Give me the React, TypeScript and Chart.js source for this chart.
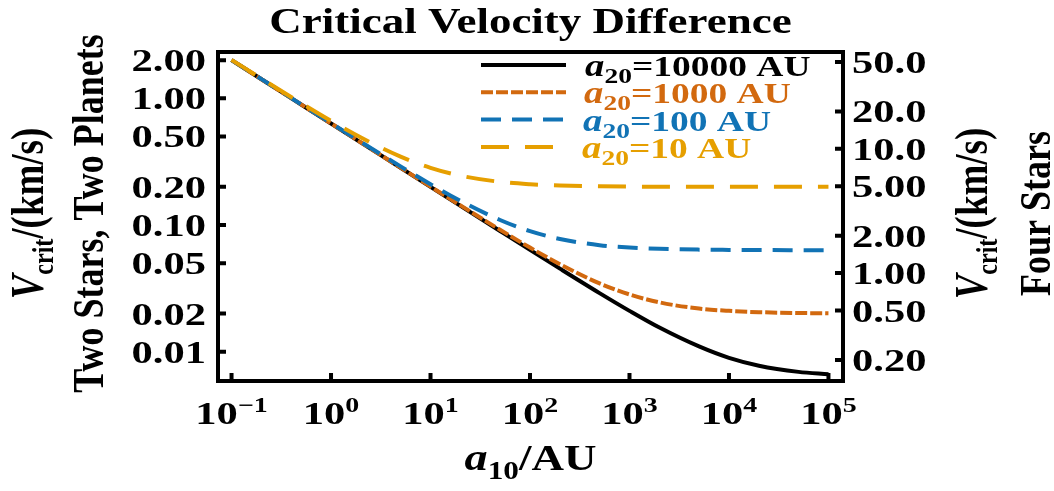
import React, { useEffect, useRef } from "react";
import { Chart, registerables } from "chart.js";

Chart.register(...registerables);

// ---- data ----
const xValues = [0.1, 0.2, 0.5, 1, 2, 5, 10, 20, 50, 100, 200, 500, 1000, 2000, 5000, 10000, 20000, 50000, 100000];
const v10000 = [2.0, 1.414, 0.894, 0.632, 0.447, 0.283, 0.2, 0.1415, 0.0897, 0.0636, 0.0452, 0.029, 0.021, 0.0155, 0.011, 0.00894, 0.00775, 0.00693, 0.00663];
const v1000 = [2.0, 1.414, 0.895, 0.633, 0.448, 0.2835, 0.201, 0.1428, 0.0917, 0.0663, 0.049, 0.0346, 0.0283, 0.0245, 0.0219, 0.021, 0.0205, 0.0202, 0.0201];
const v100 = [2.001, 1.416, 0.897, 0.636, 0.452, 0.29, 0.21, 0.155, 0.1095, 0.0894, 0.0775, 0.0693, 0.0663, 0.0648, 0.0639, 0.0636, 0.0634, 0.0633, 0.0633];
const v10 = [2.01, 1.428, 0.9165, 0.663, 0.49, 0.3464, 0.2828, 0.245, 0.219, 0.2098, 0.205, 0.202, 0.201, 0.2005, 0.2002, 0.2001, 0.2, 0.2, 0.2];

const seriesNames = ["10000", "1000", "100", "10"];
const seriesColors = ["#000000", "#D2690F", "#1173B5", "#E69F00"];
const seriesDashes: number[][] = [[], [12, 3], [20, 11], [28, 16]];

const leftTicks = [2, 1, 0.5, 0.2, 0.1, 0.05, 0.02, 0.01];
const leftTickLabels = ["2.00", "1.00", "0.50", "0.20", "0.10", "0.05", "0.02", "0.01"];
const rightTicks = [50, 20, 10, 5, 2, 1, 0.5, 0.2];
const rightTickLabels = ["50.0", "20.0", "10.0", "5.00", "2.00", "1.00", "0.50", "0.20"];
const xTicks = [0.1, 1, 10, 100, 1000, 10000, 100000];
const xTickExponents = ["\u22121", "0", "1", "2", "3", "4", "5"];

const titleText = "Critical Velocity Difference";
const FONT = "'Liberation Serif', 'Times New Roman', serif";

type Run = { t: string; font: string; dy?: number };

function drawRuns(
  ctx: CanvasRenderingContext2D,
  runs: Run[],
  x: number,
  y: number,
  align: "left" | "center" | "right",
  sx: number,
  sy: number,
  rot: number,
  color: string
) {
  ctx.save();
  ctx.translate(x, y);
  if (rot) ctx.rotate(rot);
  ctx.scale(sx, sy);
  ctx.fillStyle = color;
  ctx.textAlign = "left";
  ctx.textBaseline = "alphabetic";
  let w = 0;
  for (const r of runs) {
    ctx.font = r.font;
    w += ctx.measureText(r.t).width;
  }
  let cx = align === "left" ? 0 : align === "center" ? -w / 2 : -w;
  for (const r of runs) {
    ctx.font = r.font;
    ctx.fillText(r.t, cx, r.dy || 0);
    cx += ctx.measureText(r.t).width;
  }
  ctx.restore();
}

function labelFor(values: number[], labels: string[], v: number) {
  let best = 0;
  for (let i = 1; i < values.length; i++) {
    if (Math.abs(Math.log(values[i] / v)) < Math.abs(Math.log(values[best] / v))) best = i;
  }
  return labels[best];
}

const decorPlugin = {
  id: "decor",
  afterDatasetsDraw(chart: any) {
    const ctx: CanvasRenderingContext2D = chart.ctx;
    const { left, right, top, bottom } = chart.chartArea;
    const xs = chart.scales.x;
    const ys = chart.scales.y;
    const y2 = chart.scales.y2;
    ctx.save();
    ctx.strokeStyle = "#000";
    ctx.lineWidth = 4;
    ctx.setLineDash([]);
    ctx.strokeRect(left, top, right - left, bottom - top);
    const tl = 8;
    ctx.beginPath();
    for (const t of xs.ticks) {
      const px = xs.getPixelForValue(t.value);
      ctx.moveTo(px, bottom);
      ctx.lineTo(px, bottom - tl);
    }
    for (const t of ys.ticks) {
      const py = ys.getPixelForValue(t.value);
      ctx.moveTo(left, py);
      ctx.lineTo(left + tl, py);
    }
    for (const t of y2.ticks) {
      const py = y2.getPixelForValue(t.value);
      ctx.moveTo(right, py);
      ctx.lineTo(right - tl, py);
    }
    ctx.stroke();
    ctx.restore();
  },
  afterDraw(chart: any) {
    const ctx: CanvasRenderingContext2D = chart.ctx;
    const { left, right, top, bottom } = chart.chartArea;
    const xs = chart.scales.x;
    const ys = chart.scales.y;
    const y2 = chart.scales.y2;
    const tickFont = `bold 32px ${FONT}`;
    const tsx = 1.33;

    // title
    drawRuns(ctx, [{ t: titleText, font: `bold 36px ${FONT}` }], (left + right) / 2, 33, "center", 1.25, 1, 0, "#000");

    // left tick labels
    ys.ticks.forEach((t: any) => {
      const py = ys.getPixelForValue(t.value);
      const lab = labelFor(leftTicks, leftTickLabels, t.value);
      drawRuns(ctx, [{ t: lab, font: tickFont }], left - 12, py + 11, "right", tsx, 1, 0, "#000");
    });
    // right tick labels
    y2.ticks.forEach((t: any) => {
      const py = y2.getPixelForValue(t.value);
      const lab = labelFor(rightTicks, rightTickLabels, t.value);
      drawRuns(ctx, [{ t: lab, font: tickFont }], right + 9, py + 11, "left", tsx, 1, 0, "#000");
    });
    // x tick labels
    xs.ticks.forEach((t: any) => {
      const px = xs.getPixelForValue(t.value);
      const ex = labelFor(xTicks, xTickExponents, t.value);
      drawRuns(
        ctx,
        [
          { t: "10", font: tickFont },
          { t: ex, font: `bold 21px ${FONT}`, dy: -12 },
        ],
        px,
        bottom + 43,
        "center",
        tsx,
        1,
        0,
        "#000"
      );
    });

    // x axis title
    drawRuns(
      ctx,
      [
        { t: "a", font: `italic bold 37px ${FONT}` },
        { t: "10", font: `bold 25px ${FONT}`, dy: 9 },
        { t: "/AU", font: `bold 36px ${FONT}` },
      ],
      (left + right) / 2,
      bottom + 89,
      "center",
      1.25,
      1,
      0,
      "#000"
    );

    // left axis title (two rotated lines)
    const cy = (top + bottom) / 2 - 3;
    const vRuns: Run[] = [
      { t: "V", font: `italic bold 37px ${FONT}` },
      { t: "crit", font: `bold 24px ${FONT}`, dy: 8 },
      { t: "/(km/s)", font: `bold 37px ${FONT}` },
    ];
    drawRuns(ctx, vRuns, 43, cy, "center", 1, 1.25, -Math.PI / 2, "#000");
    drawRuns(ctx, [{ t: "Two Stars, Two Planets", font: `bold 36px ${FONT}` }], 103, cy, "center", 1, 1.25, -Math.PI / 2, "#000");
    // right axis title
    drawRuns(ctx, vRuns, 987, cy, "center", 1, 1.25, -Math.PI / 2, "#000");
    drawRuns(ctx, [{ t: "Four Stars", font: `bold 36px ${FONT}` }], 1050, cy, "center", 1, 1.25, -Math.PI / 2, "#000");

    // legend
    seriesNames.forEach((name, i) => {
      const ly = 65 + i * 27.3;
      ctx.save();
      ctx.strokeStyle = seriesColors[i];
      ctx.lineWidth = 4;
      ctx.lineCap = "butt";
      ctx.setLineDash(seriesDashes[i]);
      ctx.beginPath();
      ctx.moveTo(481, ly);
      ctx.lineTo(566, ly);
      ctx.stroke();
      ctx.restore();
      drawRuns(
        ctx,
        [
          { t: "a", font: `italic bold 31px ${FONT}` },
          { t: "20", font: `bold 22px ${FONT}`, dy: 7 },
          { t: `=${name} AU`, font: `bold 30px ${FONT}` },
        ],
        585 - i,
        ly + 11,
        "left",
        1.25,
        1,
        0,
        seriesColors[i]
      );
    });
  },
};

export default function App() {
  const canvasRef = useRef<HTMLCanvasElement | null>(null);

  useEffect(() => {
    const canvas = canvasRef.current;
    if (!canvas) return;
    const allSeries = [v10000, v1000, v100, v10];
    const chart = new Chart(canvas, {
      type: "line",
      data: {
        datasets: allSeries.map((vals, i) => ({
          label: `a20=${seriesNames[i]} AU`,
          data: xValues.map((x, j) => ({ x, y: vals[j] })),
          borderColor: seriesColors[i],
          backgroundColor: seriesColors[i],
          borderWidth: 4,
          borderDash: seriesDashes[i],
          borderCapStyle: "butt" as const,
          pointRadius: 0,
          cubicInterpolationMode: "monotone" as const,
          fill: false,
          yAxisID: "y",
          order: 3 - i,
        })),
      },
      options: {
        animation: false,
        responsive: true,
        maintainAspectRatio: false,
        layout: { padding: { left: 218, right: 211, top: 52, bottom: 110 } },
        plugins: {
          legend: { display: false },
          title: { display: false },
          tooltip: { enabled: false },
        },
        events: [],
        scales: {
          x: {
            type: "logarithmic",
            display: false,
            min: 0.0731,
            max: 140000,
            afterBuildTicks: (s: any) => {
              s.ticks = xTicks.map((v) => ({ value: v }));
            },
          },
          y: {
            type: "logarithmic",
            display: false,
            position: "left",
            min: 0.00587,
            max: 2.319,
            afterBuildTicks: (s: any) => {
              s.ticks = leftTicks.map((v) => ({ value: v }));
            },
          },
          y2: {
            type: "logarithmic",
            display: false,
            position: "right",
            min: 0.1355,
            max: 60.1,
            afterBuildTicks: (s: any) => {
              s.ticks = rightTicks.map((v) => ({ value: v }));
            },
          },
        },
      },
      plugins: [decorPlugin],
    });
    return () => chart.destroy();
  }, []);

  return (
    <div style={{ position: "fixed", left: 0, top: 0, width: 1054, height: 491, background: "#fff" }}>
      <canvas ref={canvasRef} />
    </div>
  );
}
